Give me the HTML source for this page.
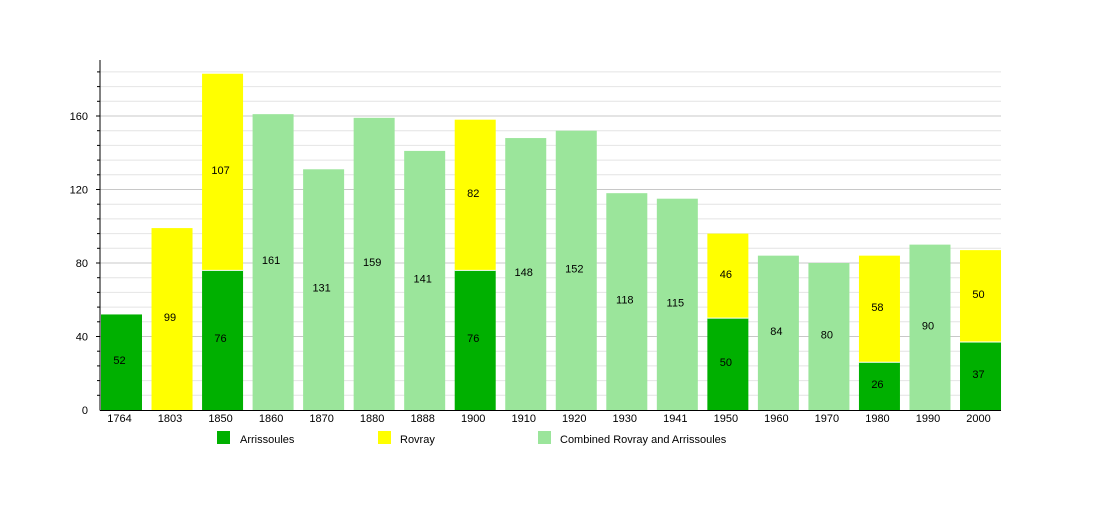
<!DOCTYPE html>
<html><head><meta charset="utf-8"><style>
body{margin:0;background:#fff;}
svg text{font-family:"Liberation Sans",sans-serif;font-size:11px;fill:#000;}
</style></head><body>
<svg id="c" width="1100" height="500" xmlns="http://www.w3.org/2000/svg"></svg>
<script>
const svg=document.getElementById('c');
let h='';
const y0=410,s=1.8375,cw=50.53;
for(let v=8;v<=184;v+=8){const y=y0-v*s;const maj=v%40==0;
h+=`<line x1="100" x2="1001" y1="${y}" y2="${y}" stroke="${maj?'#c8c8c8':'#e4e4e4'}" stroke-width="1"/>`;
h+=`<line x1="${maj?96:97}" x2="100" y1="${y}" y2="${y}" stroke="#000"/>`;
if(maj)h+=`<text x="88" y="${y+4}" text-anchor="end">${v}</text>`;}
h+=`<text x="88" y="414" text-anchor="end">0</text>`;
const d=[["1764",52,0,0],["1803",0,99,0],["1850",76,107,0],["1860",0,0,161],["1870",0,0,131],["1880",0,0,159],["1888",0,0,141],["1900",76,82,0],["1910",0,0,148],["1920",0,0,152],["1930",0,0,118],["1941",0,0,115],["1950",50,46,0],["1960",0,0,84],["1970",0,0,80],["1980",26,58,0],["1990",0,0,90],["2000",37,50,0]];
d.forEach((r,i)=>{const x=101+i*cw,w=41,cx=x+w/2-2;let base=0;
[[r[1],'#00b000'],[r[2],'#ffff00'],[r[3],'#9be59b']].forEach(([v,c])=>{if(!v)return;
const yt=y0-(base+v)*s,yb=y0-base*s;
h+=`<rect x="${x}" y="${yt}" width="${w}" height="${yb-yt}" fill="${c}"/>`;
if(base)h+=`<line x1="${x}" x2="${x+w}" y1="${yb}" y2="${yb}" stroke="#fff"/>`;
h+=`<text x="${cx}" y="${(yt+yb)/2+2}" text-anchor="middle">${v}</text>`;base+=v;});
h+=`<text x="${cx}" y="422" text-anchor="middle">${r[0]}</text>`;});
h+=`<line x1="100" x2="100" y1="60" y2="410.5" stroke="#000"/><line x1="100" x2="1001" y1="410.5" y2="410.5" stroke="#000"/>`;
[[217,240,'#00b000','Arrissoules'],[378,400,'#ffff00','Rovray'],[538,560,'#9be59b','Combined Rovray and Arrissoules']].forEach(([a,b,c,t])=>{
h+=`<rect x="${a}" y="431" width="13" height="13" fill="${c}"/><text x="${b}" y="443">${t}</text>`;});
svg.innerHTML=h;
</script>
</body></html>
